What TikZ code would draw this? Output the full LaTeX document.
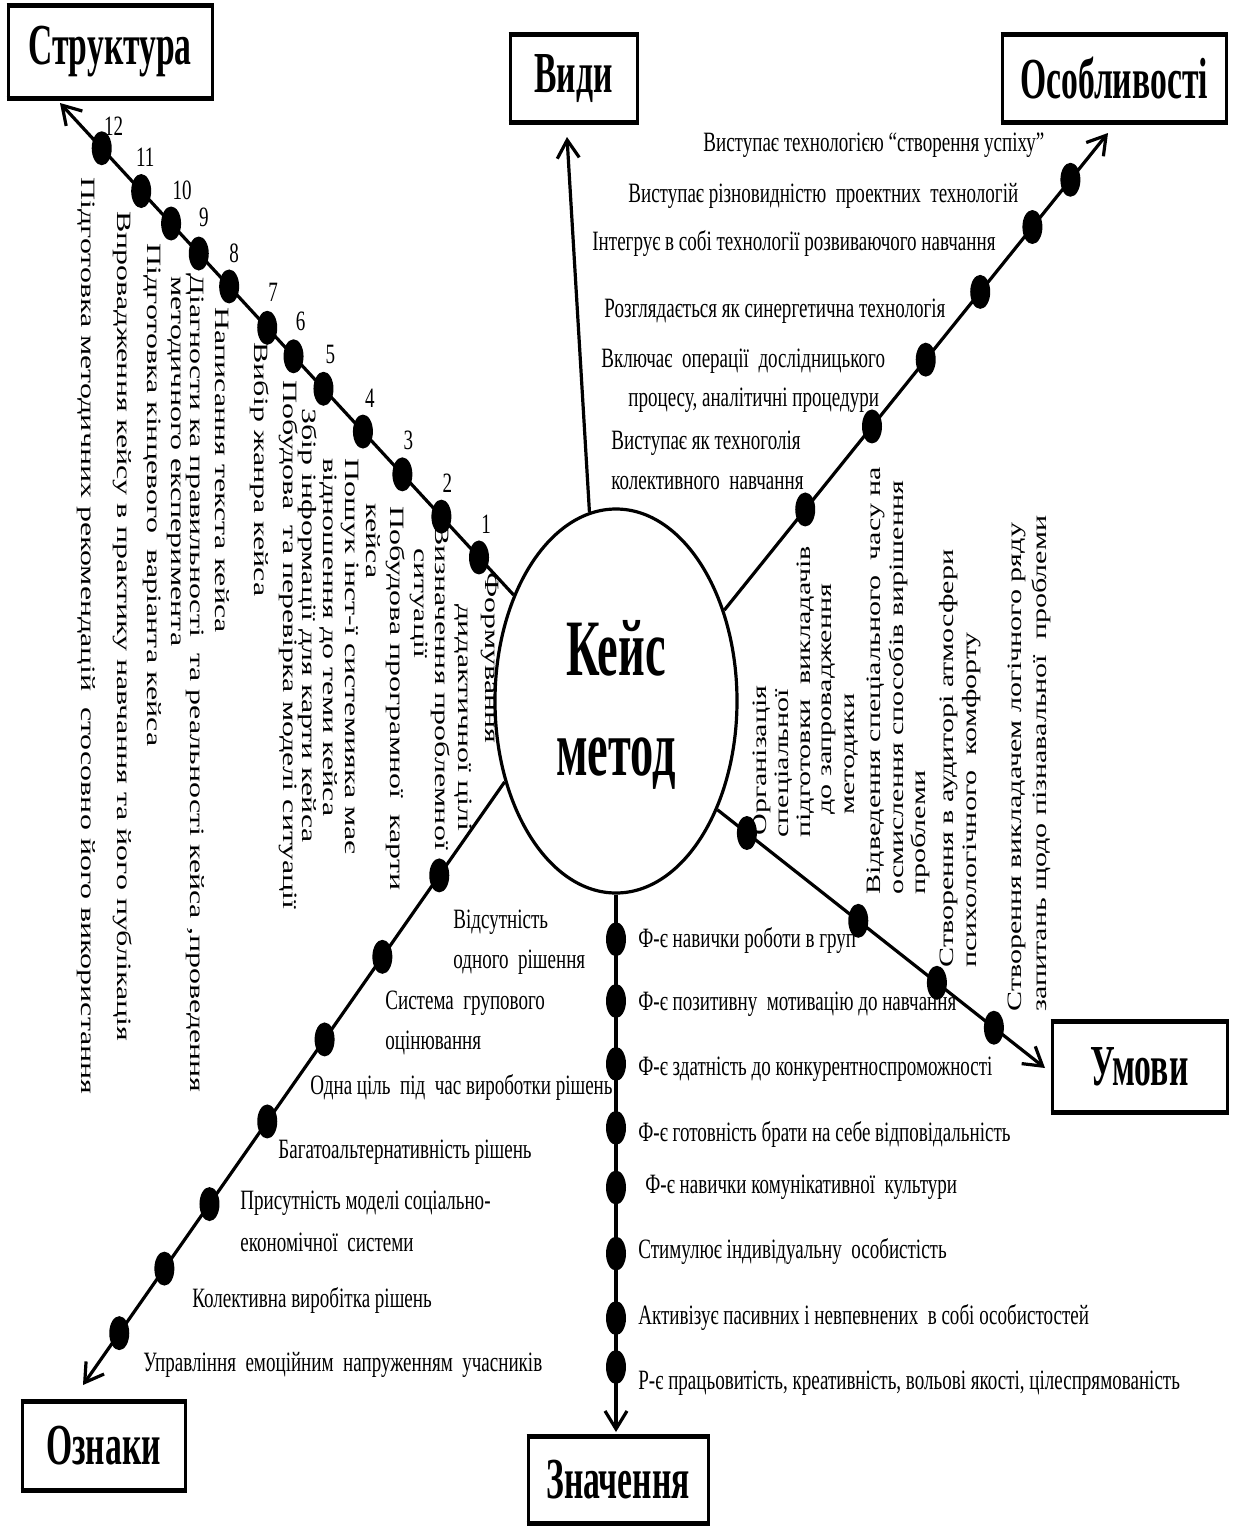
\documentclass[tikz,border=0pt]{standalone}
\usepackage{fontspec}
\setmainfont{Liberation Serif}
\newfontfamily\bodyfont[FakeStretch=0.68]{Liberation Serif}
\newfontfamily\headfont[FakeStretch=0.58]{Liberation Serif}
\usetikzlibrary{arrows.meta,calc,shapes.geometric}

\tikzset{
  conn/.style={line width=1.6pt, -{Straight Barb[length=9pt,width=11pt,line width=1.6pt]}},
  dot/.style={ellipse, fill=black, inner sep=0pt, minimum width=10pt, minimum height=17pt},
  titlebox/.style={draw, line width=1.5pt, inner sep=0pt, fill=white,
    font=\headfont\bfseries\fontsize{29}{32}\selectfont},
  htxt/.style={anchor=west, inner sep=0pt, font=\bodyfont\fontsize{14}{16}\selectfont},
  numlbl/.style={inner sep=0pt, font=\bodyfont\fontsize{14}{16}\selectfont},
  vdown/.style={anchor=west, inner sep=0pt, rotate=-90, yscale=0.635,
    font=\fontsize{16}{18}\selectfont},
  vup/.style={anchor=west, inner sep=0pt, rotate=90, yscale=0.68,
    font=\fontsize{15}{17}\selectfont},
}

\begin{document}
\begin{tikzpicture}[x=0.5pt,y=-0.5pt]
\useasboundingbox (0,0) rectangle (1237,1526);
\fill[white] (0,0) rectangle (1237,1526);

% central ellipse
\node[ellipse, draw, line width=1.6pt, minimum width=121pt, minimum height=192pt, inner sep=0pt] (kc) at (616,701) {};
\node[align=center, inner sep=0pt, font=\headfont\bfseries\fontsize{40}{50}\selectfont] (kt) at (616,705) {Кейс\\метод};

% title boxes
\node[titlebox, minimum width=102pt, minimum height=46pt] (str) at (110,52) {Структура};
\node[titlebox, minimum width=63.5pt, minimum height=43.5pt] (vyd) at (573.5,78.5) {Види};
\node[titlebox, minimum width=112pt, minimum height=43.5pt] (osb) at (1114,78.5) {Особливості};
\node[titlebox, minimum width=87.5pt, minimum height=45pt] (umv) at (1139.5,1067) {Умови};
\node[titlebox, minimum width=81.5pt, minimum height=44pt] (ozn) at (103.5,1446) {Ознаки};
\node[titlebox, minimum width=90pt, minimum height=43pt] (znc) at (618,1480) {Значення};
% heavier top and bottom edges of the boxes
\foreach \b in {str,vyd,osb,umv,ozn,znc}{
  \draw[line width=2.6pt] ([yshift=-0.6pt]\b.north west) -- ([yshift=-0.6pt]\b.north east)
        ([yshift=0.6pt]\b.south west) -- ([yshift=0.6pt]\b.south east);
}

% arrow tips at the boxes
\coordinate (st-tip) at (60,103);
\coordinate (vd-tip) at (567,137);
\coordinate (os-tip) at (1108,133);
\coordinate (um-tip) at (1045,1068);
\coordinate (oz-tip) at (83,1385);
\coordinate (zn-tip) at (616,1432);

% Структура
\draw[conn] (kc.134.4) -- (st-tip)
  node[dot,pos=0.076] (s1) {}
  node[dot,pos=0.159] (s2) {}
  node[dot,pos=0.245] (s3) {}
  node[dot,pos=0.332] (s4) {}
  node[dot,pos=0.419] (s5) {}
  node[dot,pos=0.485] (s6) {}
  node[dot,pos=0.543] (s7) {}
  node[dot,pos=0.627] (s8) {}
  node[dot,pos=0.694] (s9) {}
  node[dot,pos=0.755] (s10) {}
  node[dot,pos=0.821] (s11) {}
  node[dot,pos=0.908] (s12) {};

\node[numlbl] (n1) at ($(s1)+(7,-33)$) {1};
\node[numlbl] (n2) at ($(s2)+(6,-33)$) {2};
\node[numlbl] (n3) at ($(s3)+(6,-34)$) {3};
\node[numlbl] (n4) at ($(s4)+(7,-33)$) {4};
\node[numlbl] (n5) at ($(s5)+(7,-34)$) {5};
\node[numlbl] (n6) at ($(s6)+(7,-35)$) {6};
\node[numlbl] (n7) at ($(s7)+(6,-35)$) {7};
\node[numlbl] (n8) at ($(s8)+(5,-33)$) {8};
\node[numlbl] (n9) at ($(s9)+(5,-36)$) {9};
\node[numlbl] (n10) at ($(s10)+(11,-33)$) {10};
\node[numlbl] (n11) at ($(s11)+(4,-34)$) {11};
\node[numlbl] (n12) at ($(s12)+(12,-22)$) {12};

\node[vdown] (t1a) at (490,572) {Формування};
\node[vdown] (t1b) at (463,604) {дидактичної цілі};
\node[vdown] (t2a) at (441,524) {Визначення проблемної};
\node[vdown] (t2b) at (419,548) {ситуації};
\node[vdown] (t3a) at (396,506) {Побудова програмної\ \ карти};
\node[vdown] (t3b) at (373,503) {кейса};
\node[vdown] (t4a) at (350,458) {Пошук інст-ї системияка має};
\node[vdown] (t4b) at (328,458) {відношення до теми кейса};
\node[vdown] (t5) at (308,408) {Збір інформації\ для карти кейса};
\node[vdown] (t6) at (289,380) {Побудова\ \ та перевірка моделі ситуації};
\node[vdown] (t7) at (260,342) {Вибір жанра кейса};
\node[vdown] (t8) at (222,307) {Написання текста кейса};
\node[vdown] (t9a) at (195,273) {Діагности ка правильності\ \ та реальності кейса ,проведення};
\node[vdown] (t9b) at (174,276) {методичного експеримента};
\node[vdown] (t10) at (152,243) {Підготовка кінцевого\ \ варіанта кейса};
\node[vdown] (t11) at (123,211) {Впровадження кейсу в практику навчання та його публікація};
\node[vdown] (t12) at (86,177) {Підготовка методичних рекомендацій\ \ стосовно його використання};

% Види
\draw[conn] (kc.98) -- (vd-tip);

% Особливості
\draw[conn] (kc.40) -- (os-tip)
  node[dot,pos=0.211] (o1) {}
  node[dot,pos=0.385] (o2) {}
  node[dot,pos=0.525] (o3) {}
  node[dot,pos=0.667] (o4) {}
  node[dot,pos=0.803] (o5) {}
  node[dot,pos=0.902] (o6) {};

\node[htxt] (f1) at (703,145) {Виступає технологією\ “створення успіху”};
\node[htxt] (f2) at (628,196) {Виступає різновидністю\ \ проектних\ \ технологій};
\node[htxt] (f3) at (592,243) {Інтегрує в собі технології розвиваючого навчання};
\node[htxt] (f4) at (604,311) {Розглядається як синергетична технологія};
\node[htxt] (f5a) at (601,361) {Включає\ \ операції\ \ дослідницького};
\node[htxt] (f5b) at (628,400) {процесу,\ аналітичні процедури};
\node[htxt] (f6a) at (611,443) {Виступає як техноголія};
\node[htxt] (f6b) at (611,483) {колективного\ \ навчання};

% Умови
\draw[conn] (kc.-47) -- (um-tip)
  node[dot,pos=0.09] (u1) {}
  node[dot,pos=0.43] (u2) {}
  node[dot,pos=0.67] (u3) {}
  node[dot,pos=0.844] (u4) {};

\node[vup] (c1a) at (762,836) {Організація};
\node[vup] (c1b) at (784,838) {спеціальної};
\node[vup] (c1c) at (806,838) {підготовки\ \ викладачів};
\node[vup] (c1d) at (829,815) {до запровадження};
\node[vup] (c1e) at (852,815) {методики};
\node[vup] (c2a) at (876,895) {Відведення спеціального\ \ часу на};
\node[vup] (c2b) at (898,895) {осмислення способів вирішення};
\node[vup] (c2c) at (920,895) {проблеми};
\node[vup] (c3a) at (949,968) {Створення в аудиторі атмосфери};
\node[vup] (c3b) at (972,968) {психологічного\ \ комфорту};
\node[vup] (c4a) at (1017,1012) {Створення викладачем логічного ряду};
\node[vup] (c4b) at (1041,1012) {запитань щодо пізнавальної\ \ проблеми};

% Значення
\draw[conn] (kc.south) -- (zn-tip)
  node[dot,pos=0.083] (z1) {}
  node[dot,pos=0.198] (z2) {}
  node[dot,pos=0.315] (z3) {}
  node[dot,pos=0.434] (z4) {}
  node[dot,pos=0.545] (z5) {}
  node[dot,pos=0.668] (z6) {}
  node[dot,pos=0.788] (z7) {}
  node[dot,pos=0.879] (z8) {};

\node[htxt] (m1) at (638,940) {Ф-є навички роботи в груп};
\node[htxt] (m2) at (638,1004) {Ф-є позитивну\ \ мотивацію до навчання};
\node[htxt] (m3) at (638,1069) {Ф-є здатність до конкурентноспроможності};
\node[htxt] (m4) at (638,1134) {Ф-є готовність брати на себе відповідальність};
\node[htxt] (m5) at (645,1187) {Ф-є навички комунікативної\ \ культури};
\node[htxt] (m6) at (638,1251) {Стимулює індивідуальну\ \ особистість};
\node[htxt] (m7) at (638,1317) {Активізує пасивних\ і невпевнених\ \ в собі особистостей};
\node[htxt] (m8) at (638,1383) {Р-є працьовитість, креативність, вольові якості, цілеспрямованість};

% Ознаки
\draw[conn] (kc.216) -- (oz-tip)
  node[dot,pos=0.155] (g1) {}
  node[dot,pos=0.290] (g2) {}
  node[dot,pos=0.427] (g3) {}
  node[dot,pos=0.563] (g4) {}
  node[dot,pos=0.700] (g5) {}
  node[dot,pos=0.807] (g6) {}
  node[dot,pos=0.914] (g7) {};

\node[htxt] (p1a) at (453,922) {Відсутність};
\node[htxt] (p1b) at (453,962) {одного\ \ рішення};
\node[htxt] (p2a) at (385,1003) {Система\ \ групового};
\node[htxt] (p2b) at (385,1043) {оцінювання};
\node[htxt] (p3) at (310,1087) {Одна ціль\ \ під\ \ час вироботки рішень};
\node[htxt] (p4) at (278,1152) {Багатоальтернативність рішень};
\node[htxt] (p5a) at (240,1203) {Присутність моделі соціально-};
\node[htxt] (p5b) at (240,1242) {економічної\ \ системи};
\node[htxt] (p6) at (192,1300) {Колективна виробітка рішень};
\node[htxt] (p7) at (143,1365) {Управління\ \ емоційним\ \ напруженням\ \ учасників};
\end{tikzpicture}
\end{document}
